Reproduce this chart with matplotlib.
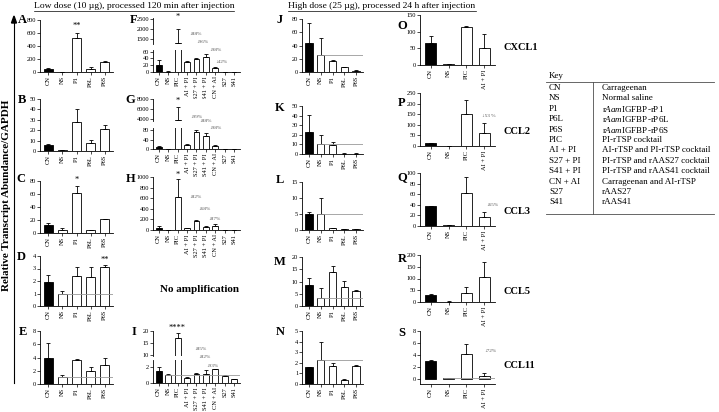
import numpy as np
import matplotlib.pyplot as plt
from matplotlib.lines import Line2D

plt.rcParams['font.family'] = ['Liberation Serif', 'DejaVu Serif']
plt.rcParams['mathtext.fontset'] = 'custom'
plt.rcParams['mathtext.rm'] = 'Liberation Serif'
plt.rcParams['mathtext.it'] = 'Liberation Serif:italic'

W, H = 719, 412

cats_low = ['CN', 'NS', 'P1', 'P6L', 'P6S']
cats_mix = ['CN', 'NS', 'PIC', 'AI + PI', 'S27 + PI', 'S41 + PI', 'CN + AI', 'S27', 'S41']
cats_chem = ['CN', 'NS', 'PIC', 'AI + PI']

# low dose, single proteins
a_val = [45, 4, 520, 50, 160]
a_err = [10, 2, 80, 30, 15]
b_val = [6, 1, 28, 8, 21]
b_err = [1, 0.3, 12, 3, 4]
c_val = [12, 5, 61, 4, 21]
c_err = [3, 3, 11, 1, 1]
d_val = [1.9, 1.0, 2.4, 2.3, 3.1]
d_err = [0.6, 0.2, 0.7, 0.8, 0.2]
e_val = [4.0, 1.1, 3.6, 2.0, 2.8]
e_err = [2.2, 0.3, 0.1, 0.6, 1.1]

# low dose, cocktails
f_val = [22, 1, 1300, 29, 39, 44, 11, 0.5, 0.5]
f_err = [12, 0.5, 700, 3, 2, 8, 3, 0.3, 0.3]
g_val = [8, 1, 3900, 18, 72, 55, 13, 1, 1]
g_err = [5, 0.5, 2600, 4, 10, 12, 3, 0.5, 0.5]
h_val = [40, 3, 620, 35, 170, 60, 75, 2, 2]
h_err = [30, 2, 340, 10, 20, 15, 30, 1, 1]
i_val = [1.5, 1.0, 17, 0.6, 1.1, 1.1, 1.75, 0.9, 0.5]
i_err = [0.5, 0.1, 2, 0.2, 0.15, 0.6, 0.05, 0.05, 0.05]

# high dose, single proteins
j_val = [44, 26, 17, 7, 2]
j_err = [30, 26, 0.5, 1, 1]
k_val = [23, 10, 9, 0.5, 0.5]
k_err = [18, 10, 3, 0.3, 0.3]
l_val = [5, 5, 0.5, 0.3, 0.3]
l_err = [0.7, 5, 0.2, 0.1, 0.1]
m_val = [8.5, 3.3, 14, 7.8, 6]
m_err = [2.8, 4, 2.5, 2.4, 0.6]
n_val = [1.6, 2.3, 1.7, 0.4, 1.7]
n_err = [0.05, 1.7, 0.25, 0.05, 0.1]

# high dose, cocktail
o_val = [66, 2, 115, 51]
o_err = [21, 1, 2, 42]
p_val = [12, 1, 151, 63]
p_err = [3, 0.5, 66, 45]
q_val = [37, 1, 62, 17]
q_err = [0.5, 0.3, 30, 9]
r_val = [30, 2, 40, 105]
r_err = [5, 1, 22, 65]
s_val = [3.0, 0.05, 4.1, 0.4]
s_err = [0.2, 0.1, 1.8, 0.6]

genes = ['CXCL1', 'CCL2', 'CCL3', 'CCL5', 'CCL11']

key_abbr = ['CN', 'NS', 'P1', 'P6L', 'P6S', 'PIC', 'AI + PI', 'S27 + PI',
            'S41 + PI', 'CN + AI', 'S27', 'S41']
key_desc = ['Carrageenan', 'Normal saline', r'r$\mathit{Aam}$IGFBP-rP1',
            r'r$\mathit{Aam}$IGFBP-rP6L', r'r$\mathit{Aam}$IGFBP-rP6S',
            'PI-rTSP cocktail', 'AI-rTSP and PI-rTSP cocktail',
            'PI-rTSP and rAAS27 cocktail', 'PI-rTSP and rAAS41 cocktail',
            'Carrageenan and AI-rTSP', 'rAAS27', 'rAAS41']

fig = plt.figure(figsize=(W / 100, H / 100), dpi=100)

LW = 0.6
BW = 0.62
FS = 4.6


def px_axes(x0, x1, y0, y1):
    return fig.add_axes([x0 / W, 1 - y1 / H, (x1 - x0) / W, (y1 - y0) / H])


def draw_bars(ax, cats, vals, errs):
    x = np.arange(len(cats))
    colors = ['black'] + ['white'] * (len(cats) - 1)
    ax.bar(x, vals, width=BW, color=colors, edgecolor='black', linewidth=LW, zorder=2)
    ax.errorbar(x, vals, yerr=[np.zeros(len(x)), errs], fmt='none', ecolor='black',
                elinewidth=LW, capsize=1.6, capthick=LW, zorder=3)
    ax.set_xlim(-0.6, len(cats) - 0.4)
    for s in ['top', 'right']:
        ax.spines[s].set_visible(False)
    ax.spines['left'].set_linewidth(LW)
    ax.spines['bottom'].set_linewidth(LW)
    ax.tick_params(axis='y', labelsize=FS, length=2, width=0.5, pad=0.8)
    ax.tick_params(axis='x', labelsize=FS, length=2, width=0.5, pad=1)
    ax.set_xticks(x)
    ax.set_xticklabels(cats, rotation=90)


def ns_line(ax, cats, vals):
    ax.hlines(vals[1], 1 - BW / 2, len(cats) - 0.4, color='0.6', lw=0.6, zorder=4)


def panel(x0, x1, y0, y1, cats, vals, errs, ylim, ticks, line=False):
    ax = px_axes(x0, x1, y0, y1)
    draw_bars(ax, cats, vals, errs)
    ax.set_ylim(*ylim)
    ax.set_yticks(ticks)
    if line:
        ns_line(ax, cats, vals)
    return ax


def broken(x0, x1, top_px, bot_px, cats, vals, errs, top_lim, top_ticks,
           bot_lim, bot_ticks, line=False):
    top = px_axes(x0, x1, top_px[0], top_px[1])
    draw_bars(top, cats, vals, errs)
    top.set_ylim(*top_lim)
    top.set_yticks(top_ticks)
    top.spines['bottom'].set_visible(False)
    top.set_xticks([])
    bot = px_axes(x0, x1, bot_px[0], bot_px[1])
    draw_bars(bot, cats, vals, errs)
    bot.set_ylim(*bot_lim)
    bot.set_yticks(bot_ticks)
    if line:
        ns_line(bot, cats, vals)
    return top, bot


def star(ax, i, vals, errs, txt, pad=2):
    ax.annotate(txt, (i, vals[i] + errs[i]), xytext=(0, pad), textcoords='offset points',
                ha='center', va='bottom', fontsize=6, annotation_clip=False)


def pct(ax, x, y, txt):
    ax.text(x, y, txt, fontsize=3.8, color='0.35', ha='left', va='center', clip_on=False)


# column 1
c1 = (40, 113)
axA = panel(*c1, 20, 72, cats_low, a_val, a_err, (0, 800), range(0, 801, 200))
star(axA, 2, a_val, a_err, '**')
axB = panel(*c1, 99, 151, cats_low, b_val, b_err, (0, 50), range(0, 51, 10))
axC = panel(*c1, 181, 233, cats_low, c_val, c_err, (0, 80), range(0, 81, 20))
star(axC, 2, c_val, c_err, '*')
axD = panel(*c1, 256, 306, cats_low, d_val, d_err, (0, 4), range(0, 5), line=True)
star(axD, 4, d_val, d_err, '**', pad=0.5)
axE = panel(*c1, 331, 384, cats_low, e_val, e_err, (0, 8), range(0, 9, 2), line=True)

# column 2
c2 = (153, 240)
fT, fB = broken(*c2, (18, 44), (50, 72), cats_mix, f_val, f_err,
                (1250, 2550), [1500, 2000, 2500], (0, 65), [0, 20, 40, 60])
star(fT, 2, f_val, f_err, '*', pad=6)
pct(fT, 3.2, 1750, '↓88%')
pct(fB, 4.0, 88, '↓96%')
pct(fB, 5.4, 65, '↓98%')
pct(fB, 5.95, 30, '↓42%')

gT, gB = broken(*c2, (99, 121), (128, 149), cats_mix, g_val, g_err,
                (3600, 8000), [4000, 6000, 8000], (0, 90), [0, 40, 80])
star(gT, 2, g_val, g_err, '*', pad=1)
pct(gT, 3.3, 4500, '↓99%')
pct(gB, 4.3, 120, '↓88%')
pct(gB, 5.3, 92, '↓98%')

axH = panel(*c2, 177, 230, cats_mix, h_val, h_err, (0, 1000), range(0, 1001, 200))
star(axH, 2, h_val, h_err, '*', pad=0.5)
pct(axH, 3.2, 620, '↓82%')
pct(axH, 4.2, 400, '↓68%')
pct(axH, 5.2, 210, '↓87%')

iT, iB = broken(*c2, (331, 356), (360, 383), cats_mix, i_val, i_err,
                (9.5, 20), [10, 15, 20], (0, 2.9), [0, 2], line=True)
star(iT, 2, i_val, i_err, '****', pad=1)
pct(iT, 3.8, 12.4, '↓85%')
pct(iB, 4.2, 3.3, '↓82%')
pct(iB, 5.0, 2.2, '↓93%')

fig.text(200 / W, 1 - 290 / H, 'No amplification', fontsize=8, fontweight='bold',
         ha='center', va='center')

# column 3
c3 = (302, 363)
panel(*c3, 19, 72, cats_low, j_val, j_err, (0, 80), range(0, 81, 20), line=True)
panel(*c3, 106, 154, cats_low, k_val, k_err, (0, 50), range(0, 51, 10), line=True)
panel(*c3, 182, 230, cats_low, l_val, l_err, (0, 15), range(0, 16, 5), line=True)
panel(*c3, 257, 306, cats_low, m_val, m_err, (0, 20), range(0, 21, 5), line=True)
panel(*c3, 331, 384, cats_low, n_val, n_err, (0, 5), range(0, 6), line=True)

# column 4
c4 = (420, 495)
panel(*c4, 15, 65, cats_chem, o_val, o_err, (0, 150), range(0, 151, 50))
axP = panel(*c4, 93, 146, cats_chem, p_val, p_err, (0, 250), range(0, 251, 50))
pct(axP, 2.85, 141, '↓53 %')
axQ = panel(*c4, 173, 226, cats_chem, q_val, q_err, (0, 100), range(0, 101, 20))
pct(axQ, 3.1, 40, '↓65%')
panel(*c4, 255, 302, cats_chem, r_val, r_err, (0, 200), range(0, 201, 50))
axS = panel(*c4, 331, 384, cats_chem, s_val, s_err, (-0.9, 8), range(0, 9, 2), line=True)
pct(axS, 3.0, 4.6, '↓72%')

for g, yp in zip(genes, [48, 131, 211, 291, 365]):
    fig.text(503 / W, 1 - yp / H, g, fontsize=7.5, fontweight='bold', va='center')

# panel letters
letters = {'A': (22, 20), 'B': (22, 100), 'C': (21, 179), 'D': (21, 257), 'E': (23, 332),
           'F': (134, 20), 'G': (130, 100), 'H': (131, 179), 'I': (134, 332),
           'J': (280, 20), 'K': (280, 108), 'L': (280, 180), 'M': (280, 262), 'N': (280, 332),
           'O': (402, 26), 'P': (402, 103), 'Q': (402, 177), 'R': (402, 259), 'S': (402, 333)}
for k, (xp, yp) in letters.items():
    fig.text(xp / W, 1 - yp / H, k, fontsize=9, fontweight='bold', ha='center', va='center')

# headers with underline
renderer = fig.canvas.get_renderer()
for txt, xc in [('Low dose (10 µg), processed 120 min after injection', 134),
                ('High dose (25 µg), processed 24 h after injection', 382)]:
    t = fig.text(xc / W, 1 - 6 / H, txt, fontsize=6.8, ha='center', va='center')
    bb = t.get_window_extent(renderer).transformed(fig.transFigure.inverted())
    fig.add_artist(Line2D([bb.x0, bb.x1], [bb.y0 - 0.002, bb.y0 - 0.002], lw=0.5,
                          color='black', transform=fig.transFigure))

# y label with arrow
fig.text(7 / W, 1 - 195 / H, 'Relative Transcript Abundance/GAPDH', rotation=90,
         fontsize=8, fontweight='bold', ha='center', va='center')
fig.add_artist(Line2D([14 / W, 14 / W], [1 - 383 / H, 1 - 20 / H], lw=0.8, color='black',
                      transform=fig.transFigure))
fig.patches.append(plt.Polygon([[14 / W, 1 - 16 / H], [11.5 / W, 1 - 23 / H], [16.5 / W, 1 - 23 / H]],
                               closed=True, color='black', transform=fig.transFigure))

# key table
kx0, kx1, kxs = 546, 714, 593
fig.text(549 / W, 1 - 76 / H, 'Key', fontsize=6.5, va='center')
fig.add_artist(Line2D([kx0 / W, kx1 / W], [1 - 82 / H, 1 - 82 / H], lw=0.6, color='0.3',
                      transform=fig.transFigure))
fig.add_artist(Line2D([kx0 / W, kx1 / W], [1 - 214 / H, 1 - 214 / H], lw=0.6, color='0.3',
                      transform=fig.transFigure))
fig.add_artist(Line2D([kxs / W, kxs / W], [1 - 82 / H, 1 - 214 / H], lw=0.6, color='0.3',
                      transform=fig.transFigure))
for n, (ab, de) in enumerate(zip(key_abbr, key_desc)):
    yp = 88 + n * 10.4
    fig.text(549 / W, 1 - yp / H, ab, fontsize=6.5, va='center')
    fig.text(602 / W, 1 - yp / H, de, fontsize=6.5, va='center')

fig.savefig('out.png', dpi=100)
